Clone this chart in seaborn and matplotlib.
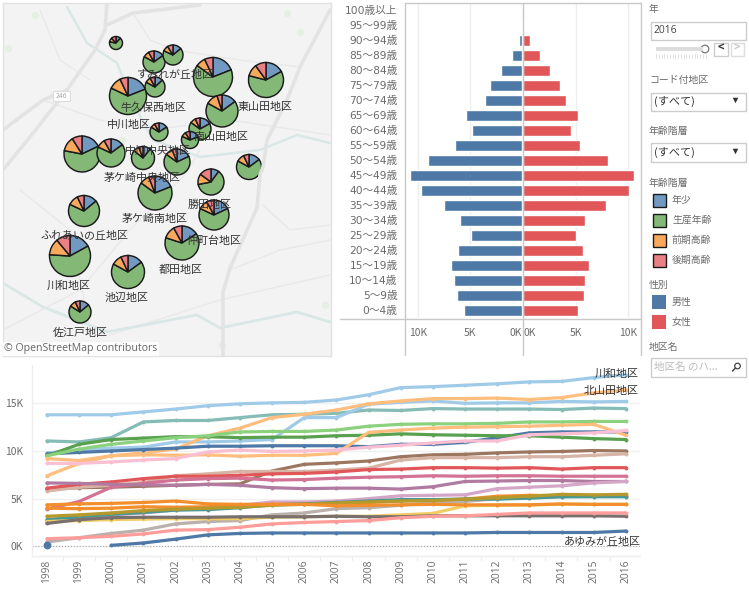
import numpy as np
import pandas as pd
import matplotlib
matplotlib.use('Agg')
import matplotlib.pyplot as plt
from matplotlib.patches import Rectangle, Circle
import seaborn as sns

# population pyramid, thousands
age_labels = ['100歳以上', '95～99歳', '90～94歳', '85～89歳', '80～84歳', '75～79歳', '70～74歳',
              '65～69歳', '60～64歳', '55～59歳', '50～54歳', '45～49歳', '40～44歳', '35～39歳',
              '30～34歳', '25～29歳', '20～24歳', '15～19歳', '10～14歳', '5～9歳', '0～4歳']
male = [0.0, 0.13, 0.32, 1.0, 2.05, 3.1, 3.6, 5.4, 4.85, 6.45, 9.05, 10.8, 9.75, 7.5, 6.0, 4.9, 6.15, 6.85, 6.55, 6.25, 5.6]
female = [0.0, 0.13, 0.7, 1.65, 2.6, 3.55, 4.1, 5.25, 4.6, 5.45, 8.1, 10.6, 10.1, 7.95, 5.95, 5.0, 5.75, 6.3, 5.95, 5.85, 5.25]

# map pies: centre and radius in picture pixels, shares young/working/early/late
pie_x = [116, 154, 173, 213, 266, 128, 155, 222, 159, 200, 190, 82, 111, 143, 177, 249, 211, 155, 84, 214, 70, 182, 128, 80]
pie_y = [43, 62, 55, 77, 80, 96, 87, 111, 132, 129, 140, 154, 153, 158, 162, 167, 182, 193, 211, 215, 256, 243, 272, 312]
pie_r = [6.5, 11, 10, 19.5, 17.5, 18.5, 10, 16, 9, 11, 8.5, 18, 14, 11.5, 13, 12.5, 13, 17, 15.5, 15, 20.5, 17, 16.5, 11]
pie_young = [.12, .15, .14, .19, .17, .19, .13, .15, .16, .17, .19, .18, .15, .11, .18, .15, .10, .19, .14, .18, .17, .16, .15, .14]
pie_work = [.66, .68, .68, .66, .62, .63, .70, .68, .68, .68, .63, .60, .67, .75, .67, .68, .62, .66, .68, .64, .59, .64, .68, .70]
pie_early = [.10, .09, .09, .08, .11, .11, .09, .12, .08, .08, .09, .13, .10, .08, .09, .10, .13, .09, .11, .10, .13, .12, .10, .09]
pie_late = [.12, .08, .09, .07, .10, .07, .08, .05, .08, .07, .09, .09, .08, .06, .06, .07, .15, .06, .07, .08, .11, .08, .07, .07]

map_names = ['すみれが丘地区', '牛久保西地区', '東山田地区', '中川地区', '南山田地区', '中川中央地区', '茅ケ崎中央地区', '勝田地区',
             '茅ケ崎南地区', 'ふれあいの丘地区', '仲町台地区', '都田地区', '川和地区', '池辺地区', '佐江戸地区']
name_x = [175, 153, 265, 129, 221, 158, 142, 210, 155, 85, 214, 181, 69, 127, 80]
name_y = [75, 108, 107, 125, 137, 151, 178, 205, 219, 236, 241, 270, 286, 298, 333]

# basemap lines, picture pixels
road_a = [(3, 170), (30, 137), (67, 90), (95, 50), (105, 30), (107, 3)]
road_b = [(3, 130), (43, 100), (67, 90)]
road_c = [(107, 25), (133, 13), (200, 5)]
road_d = [(330, 10), (300, 67), (287, 100), (267, 140), (263, 167), (260, 175), (257, 208), (230, 268), (223, 292), (223, 355)]
river_n = [(67, 7), (87, 43), (117, 63), (133, 103), (153, 140), (200, 157), (260, 150), (297, 135), (330, 143)]
river_s = [(3, 283), (43, 307), (107, 332), (197, 315), (220, 328), (297, 312), (330, 322)]
thin_roads = [[(43, 100), (100, 120), (150, 130), (230, 120), (330, 135)],
              [(3, 330), (80, 290), (130, 230), (185, 175), (200, 150)],
              [(110, 335), (220, 300), (330, 275)],
              [(133, 13), (150, 40), (175, 50), (240, 60), (300, 67)],
              [(263, 205), (290, 230), (330, 225)],
              [(20, 190), (70, 230), (90, 330)],
              [(40, 10), (60, 60), (90, 80)],
              [(230, 270), (280, 250), (330, 240)]]
green_x = [8, 287, 122, 300, 35, 222, 325]
green_y = [48, 13, 140, 32, 15, 345, 305]

# district population by year, thousands
years = list(range(1998, 2017))
kawawa = [13.8, 13.8, 13.8, 14.1, 14.4, 14.75, 14.95, 15.05, 15.1, 15.35, 15.9, 16.65, 16.75, 16.9, 17.05, 17.25, 17.3, 17.7, 18.0]
kitayamata = [7.4, 8.7, 9.5, 9.8, 10.2, 11.6, 12.4, 13.5, 13.85, 14.3, 14.95, 15.25, 15.5, 15.5, 15.55, 15.4, 15.6, 16.1, 16.4]
blue_light = [9.8, 10.1, 10.3, 10.4, 10.95, 10.95, 11.05, 11.2, 13.5, 13.5, 14.9, 15.1, 15.25, 15.0, 15.05, 15.05, 15.2, 15.15, 15.2]
teal_light = [11.05, 10.95, 11.4, 13.05, 13.2, 13.2, 13.5, 13.8, 13.85, 13.95, 14.3, 14.25, 14.45, 14.4, 14.4, 14.4, 14.35, 14.5, 14.45]
green_light = [9.5, 10.2, 10.7, 11.05, 11.4, 11.6, 12.0, 12.05, 12.05, 12.2, 12.6, 12.8, 12.85, 12.85, 12.9, 13.05, 13.05, 13.1, 13.1]
green_dark = [9.5, 10.7, 11.2, 11.35, 11.5, 11.5, 11.4, 11.45, 11.45, 11.6, 11.65, 11.8, 11.7, 11.65, 11.6, 11.6, 11.45, 11.3, 11.2]
blue_mid = [9.7, 9.85, 10.0, 10.15, 10.3, 10.5, 10.5, 10.55, 10.55, 10.55, 10.45, 10.7, 10.7, 10.9, 11.4, 11.9, 12.0, 12.0, 12.0]
orange_light = [9.2, 9.0, 9.5, 9.6, 9.55, 9.6, 9.45, 9.55, 9.55, 9.75, 11.95, 12.2, 12.4, 12.5, 12.55, 12.6, 12.7, 12.8, 11.65]
pink_light = [8.7, 8.7, 8.85, 9.05, 9.2, 9.9, 10.1, 9.95, 10.0, 10.1, 10.4, 10.6, 10.85, 11.05, 11.05, 11.7, 11.8, 11.9, 12.15]
brown = [6.0, 6.15, 6.2, 6.3, 6.4, 6.5, 6.55, 7.9, 8.6, 8.75, 8.95, 9.4, 9.6, 9.65, 9.8, 9.9, 9.95, 10.05, 10.0]
tan = [5.8, 6.2, 6.4, 6.7, 7.4, 7.6, 7.85, 7.85, 7.85, 8.0, 8.2, 9.05, 9.3, 9.3, 9.3, 9.4, 9.4, 9.55, 9.7]
red = [6.1, 6.5, 6.75, 7.1, 7.35, 7.35, 7.45, 7.6, 7.65, 7.8, 8.05, 8.1, 8.25, 8.25, 8.2, 8.25, 8.1, 8.25, 8.25]
raspberry = [3.9, 4.7, 6.2, 6.6, 6.95, 7.1, 7.15, 6.95, 7.0, 7.15, 7.25, 7.3, 7.4, 7.35, 7.4, 7.4, 7.35, 7.35, 7.35]
purple = [6.65, 6.6, 6.5, 6.45, 6.4, 6.5, 6.4, 6.15, 6.05, 6.1, 6.1, 6.0, 6.25, 6.8, 6.85, 6.9, 6.9, 6.8, 6.8]
mauve = [2.6, 3.0, 3.3, 3.5, 3.8, 4.0, 4.3, 4.65, 4.65, 4.75, 5.0, 5.3, 5.35, 5.4, 6.05, 6.2, 6.35, 6.65, 6.8]
grey_warm = [0.45, 0.9, 1.35, 1.7, 2.35, 2.6, 2.7, 3.3, 3.5, 3.95, 4.05, 4.3, 4.6, 4.7, 5.0, 5.1, 5.2, 5.25, 5.25]
orange_b = [4.0, 3.95, 4.0, 4.15, 4.1, 4.15, 4.3, 4.4, 4.4, 4.55, 4.6, 4.75, 4.85, 4.95, 5.25, 5.35, 5.3, 5.3, 5.25]
teal_dark = [2.8, 3.1, 3.35, 3.55, 3.8, 3.85, 4.05, 4.35, 4.45, 4.6, 4.75, 4.9, 4.9, 4.95, 4.95, 5.05, 5.2, 5.2, 5.2]
olive = [3.15, 3.3, 3.5, 3.75, 3.9, 4.0, 4.1, 4.3, 4.4, 4.55, 4.65, 4.75, 4.8, 4.95, 5.1, 5.25, 5.45, 5.4, 5.45]
yellow = [2.6, 2.7, 2.8, 2.85, 2.9, 2.9, 2.9, 3.05, 3.1, 3.15, 3.15, 3.3, 3.45, 4.25, 4.3, 4.35, 4.4, 4.4, 4.4]
orange_a = [4.35, 4.45, 4.5, 4.6, 4.75, 4.45, 4.4, 4.4, 4.4, 4.25, 4.3, 4.35, 4.4, 4.35, 4.35, 4.35, 4.45, 4.4, 4.4]
grey_dark = [2.4, 2.8, 3.0, 3.05, 3.05, 3.05, 3.1, 3.1, 3.1, 3.15, 3.1, 3.1, 3.2, 3.2, 3.2, 3.2, 3.2, 3.2, 3.15]
salmon = [0.8, 0.9, 1.05, 1.3, 1.7, 1.75, 2.0, 2.35, 2.5, 2.6, 2.7, 3.0, 3.15, 3.2, 3.35, 3.5, 3.5, 3.5, 3.5]
ayumi_years = list(range(2000, 2017))
ayumi = [0.1, 0.35, 0.75, 1.2, 1.35, 1.4, 1.4, 1.4, 1.4, 1.4, 1.4, 1.4, 1.45, 1.45, 1.45, 1.45, 1.6]
ayumi_dot = [0.1]

series = {'kawawa': kawawa, 'teal_light': teal_light, 'blue_light': blue_light, 'kitayamata': kitayamata,
          'blue_mid': blue_mid, 'green_dark': green_dark, 'green_light': green_light, 'orange_light': orange_light,
          'pink_light': pink_light, 'brown': brown, 'tan': tan, 'red': red, 'raspberry': raspberry, 'purple': purple,
          'mauve': mauve, 'grey_warm': grey_warm, 'orange_b': orange_b, 'teal_dark': teal_dark, 'olive': olive,
          'yellow': yellow, 'orange_a': orange_a, 'grey_dark': grey_dark, 'salmon': salmon}
line_colors = {'kawawa': '#a0cbe8', 'teal_light': '#86bcb6', 'blue_light': '#a0cbe8', 'kitayamata': '#ffbe7d',
               'blue_mid': '#4e79a7', 'green_dark': '#59a14f', 'green_light': '#8cd17d', 'orange_light': '#ffbe7d',
               'pink_light': '#fabfd2', 'brown': '#9d7660', 'tan': '#d7b5a6', 'red': '#e15759', 'raspberry': '#d37295',
               'purple': '#b07aa1', 'mauve': '#d4a6c8', 'grey_warm': '#bab0ac', 'orange_b': '#f28e2b', 'teal_dark': '#499894',
               'olive': '#b6992d', 'yellow': '#f1ce63', 'orange_a': '#f28e2b', 'grey_dark': '#79706e', 'salmon': '#ff9d9a',
               'ayumi': '#4e79a7'}

W, H = 749, 589
sns.set_theme(style='white')
plt.rcParams['font.family'] = ['Noto Sans CJK JP', 'DejaVu Sans']
GREY = '#6b6b6b'
LINE = '#c8c8c8'
JP = 7.9


def px_axes(left, top, right, bottom, **kw):
    return fig.add_axes([left / W, 1 - bottom / H, (right - left) / W, (bottom - top) / H], **kw)


fig = plt.figure(figsize=(W / 100, H / 100), dpi=100, facecolor='white')

# --- map ---
ax_map = px_axes(3, 3, 331, 356)
ax_map.set_facecolor('#f3f3f3')


def base_line(points, color, lw, z=1):
    xs = [p[0] for p in points]
    ys = [H - p[1] for p in points]
    ax_map.plot(xs, ys, color=color, lw=lw, zorder=z, solid_capstyle='round')


for road in thin_roads:
    base_line(road, '#e9e9e9', 1.0)
base_line(river_n, '#d9e7e7', 1.8)
base_line(river_s, '#d9e7e7', 2.0)
for road in [road_a, road_b, road_c, road_d]:
    base_line(road, '#e3e3e3', 2.6, z=2)
ax_map.scatter(green_x, [H - v for v in green_y], s=28, color='#e6efe3', marker='o', linewidths=0, zorder=1)
ax_map.add_patch(Rectangle((53, H - 101), 17, 10, fc='white', ec='#dddddd', lw=0.8, zorder=3))
ax_map.text(61.5, H - 96, '246', fontsize=5, color='#aaaaaa', ha='center', va='center', zorder=3)

pie_colors = ['#7299c1', '#83b877', '#f8a95c', '#ea7f85']
for i in range(len(pie_x)):
    ax_map.pie([pie_young[i], pie_work[i], pie_early[i], pie_late[i]], colors=pie_colors, center=(pie_x[i], H - pie_y[i]),
               radius=pie_r[i], startangle=90, counterclock=False, frame=True,
               wedgeprops=dict(edgecolor='#1a1a1a', linewidth=1.05))
ax_map.set_xlim(3, 331)
ax_map.set_ylim(H - 356, H - 3)
ax_map.set_xticks([])
ax_map.set_yticks([])
for s in ax_map.spines.values():
    s.set_color('#e2e2e2')
    s.set_linewidth(1)
for i in range(len(map_names)):
    ax_map.text(name_x[i], H - name_y[i], map_names[i], fontsize=JP, color='#333333', ha='center', va='center', zorder=20)
ax_map.text(4, H - 349, '© OpenStreetMap contributors', fontsize=7.6, color='#666666', family='Open Sans', va='center', zorder=20,
            bbox=dict(fc='white', ec='none', pad=1, alpha=0.85))

# --- pyramid ---
pyr = pd.DataFrame({'age': age_labels, 'male': male, 'female': female})
ax_l = px_axes(404.5, 3, 522, 318)
ax_r = px_axes(523, 3, 640, 318)
sns.barplot(data=pyr, y='age', x='male', color='#4e79a7', saturation=1, width=0.733, ax=ax_l)
sns.barplot(data=pyr, y='age', x='female', color='#e15759', saturation=1, width=0.733, ax=ax_r)
ax_l.set_xlim(11.3, 0)
ax_r.set_xlim(0, 11.14)
for ax in [ax_l, ax_r]:
    ax.set_ylim(20.53, -0.467)
    ax.set_xlabel('')
    ax.set_ylabel('')
    ax.set_xticks([0, 5, 10])
    ax.set_xticklabels(['0K', '5K', '10K'], fontsize=7.4, color=GREY)
    ax.tick_params(axis='x', length=0, pad=7)
    ax.xaxis.grid(True, color='#eeeeee', lw=1)
    ax.set_axisbelow(True)
    for s in ax.spines.values():
        s.set_visible(False)
ax_l.get_xticklabels()[0].set_ha('right')
ax_r.get_xticklabels()[0].set_ha('left')
ax_l.set_yticks(range(len(age_labels)))
ax_l.set_yticklabels(age_labels, family=['DejaVu Sans', 'Noto Sans CJK JP'], fontsize=JP - 0.2, color=GREY)
ax_l.tick_params(axis='y', length=0, pad=5)
ax_r.set_yticks([])

# --- lines ---
ax_t = px_axes(31.5, 365, 640, 555.7)
long = pd.DataFrame([{'year': y, 'pop': v * 1000, 'district': k} for k, vals in series.items() for y, v in zip(years, vals)]
                    + [{'year': y, 'pop': v * 1000, 'district': 'ayumi'} for y, v in zip(ayumi_years, ayumi)])
sns.lineplot(data=long, x='year', y='pop', hue='district', palette=line_colors, hue_order=list(series) + ['ayumi'],
             lw=2.3, marker='o', markersize=2.8, markeredgewidth=0, legend=False, errorbar=None, ax=ax_t)
ax_t.axhline(0, color='#aaaaaa', lw=0.8, ls=':', zorder=1)
sns.scatterplot(x=[1998], y=[v * 1000 for v in ayumi_dot], color='#4e79a7', s=32, linewidth=0, ax=ax_t, zorder=5)
ax_t.set_xlim(1997.52, 2016.44)
ax_t.set_ylim(-986, 19020)
ax_t.set_xlabel('')
ax_t.set_ylabel('')
ax_t.set_yticks([0, 5000, 10000, 15000])
ax_t.set_yticklabels(['0K', '5K', '10K', '15K'], fontsize=7.4, color=GREY)
ax_t.yaxis.grid(True, color='#f0f0f0', lw=1)
ax_t.set_axisbelow(True)
ax_t.set_xticks(years)
ax_t.set_xticklabels(years, rotation=90, fontsize=7.4, color=GREY, family='Open Sans')
ax_t.tick_params(axis='x', length=0, pad=3)
ax_t.tick_params(axis='y', length=0, pad=6)
for side in ['top', 'right']:
    ax_t.spines[side].set_visible(False)
for side in ['left', 'bottom']:
    ax_t.spines[side].set_color('#eeeeee')
    ax_t.spines[side].set_linewidth(1)

# --- overlay: dividers, filter panel ---
ov = fig.add_axes([0, 0, 1, 1], zorder=30)
ov.set_xlim(0, W)
ov.set_ylim(H, 0)
ov.axis('off')
ov.patch.set_alpha(0)

ov.plot([404.5, 640.5], [3, 3], color=LINE, lw=1)
ov.plot([340, 640.5], [318.5, 318.5], color=LINE, lw=1)
for x in [404.5, 522.5, 640.5]:
    ov.plot([x, x], [3, 355], color=LINE, lw=1)
for y in years[:-1]:
    x = 47 + (y - 1998 + 0.5) * 32.15
    ov.plot([x, x], [556, 560], color='#eeeeee', lw=1)

ov.text(639, 374, '川和地区', fontsize=JP, color='#333333', va='center', ha='right')
ov.text(639, 391, '北山田地区', fontsize=JP, color='#333333', va='center', ha='right')
ov.text(641, 542, 'あゆみが丘地区', fontsize=JP, color='#333333', va='center', ha='right')


def label(x, y, s, color=GREY, size=7.1, **kw):
    ov.text(x, y, s, fontsize=size, color=color, va='center', **kw)


def box(x0, y0, x1, y1, ec='#cccccc', fc='white'):
    ov.add_patch(Rectangle((x0, y0), x1 - x0, y1 - y0, fc=fc, ec=ec, lw=1))


label(649, 9, '年')
box(650.5, 21.5, 745.5, 39.5)
label(654, 30.5, '2016', color='#444444', size=7.4, family='Open Sans')
ov.plot([656, 703], [49, 49], color='#dddddd', lw=2.8, solid_capstyle='butt')
for i in range(19):
    ov.plot([656 + i * 2.75] * 2, [54, 58], color='#dddddd', lw=0.6)
ov.add_patch(Circle((705, 49), 3.8, fc='white', ec='#777777', lw=0.9))
box(713.5, 42.5, 727.5, 55.5)
box(730.5, 42.5, 743.5, 55.5, ec='#dddddd')
label(720.5, 48.5, '<', color='#333333', size=8, ha='center', weight='bold')
label(737, 48.5, '>', color='#cccccc', size=8, ha='center', weight='bold')

label(649, 80, 'コード付地区')
box(650.5, 92.5, 745.5, 110.5)
label(654, 101, '(すべて)', color='#333333', size=8)
ov.scatter([735], [100], marker='v', s=16, color='#333333', linewidths=0)
label(649, 131, '年齢階層')
box(650.5, 142.5, 745.5, 161.5)
label(654, 152, '(すべて)', color='#333333', size=8)
ov.scatter([735], [151], marker='v', s=16, color='#333333', linewidths=0)

legend_age = ['年少', '生産年齢', '前期高齢', '後期高齢']
label(649, 183, '年齢階層')
for i, name in enumerate(legend_age):
    yc = 200 + i * 20
    ov.add_patch(Rectangle((652.5, yc - 6.5), 13, 13, fc=pie_colors[i], ec='#1a1a1a', lw=1))
    label(672, yc, name)

legend_sex = ['男性', '女性']
label(649, 285, '性別')
for i, name in enumerate(legend_sex):
    yc = 302 + i * 20
    ov.add_patch(Rectangle((652, yc - 7), 14, 14, fc=['#4e79a7', '#e15759'][i], ec='none'))
    label(672, yc, name)

label(649, 347, '地区名')
box(650.5, 357.5, 745.5, 376.5)
label(654, 367, '地区名 のハ...', color='#bbbbbb', size=7.6)
ov.add_patch(Circle((737.5, 366), 2.8, fc='none', ec='#444444', lw=0.9))
ov.plot([735.5, 732.5], [368, 371], color='#444444', lw=1.1)

fig.savefig('out.png', dpi=100, facecolor='white')
